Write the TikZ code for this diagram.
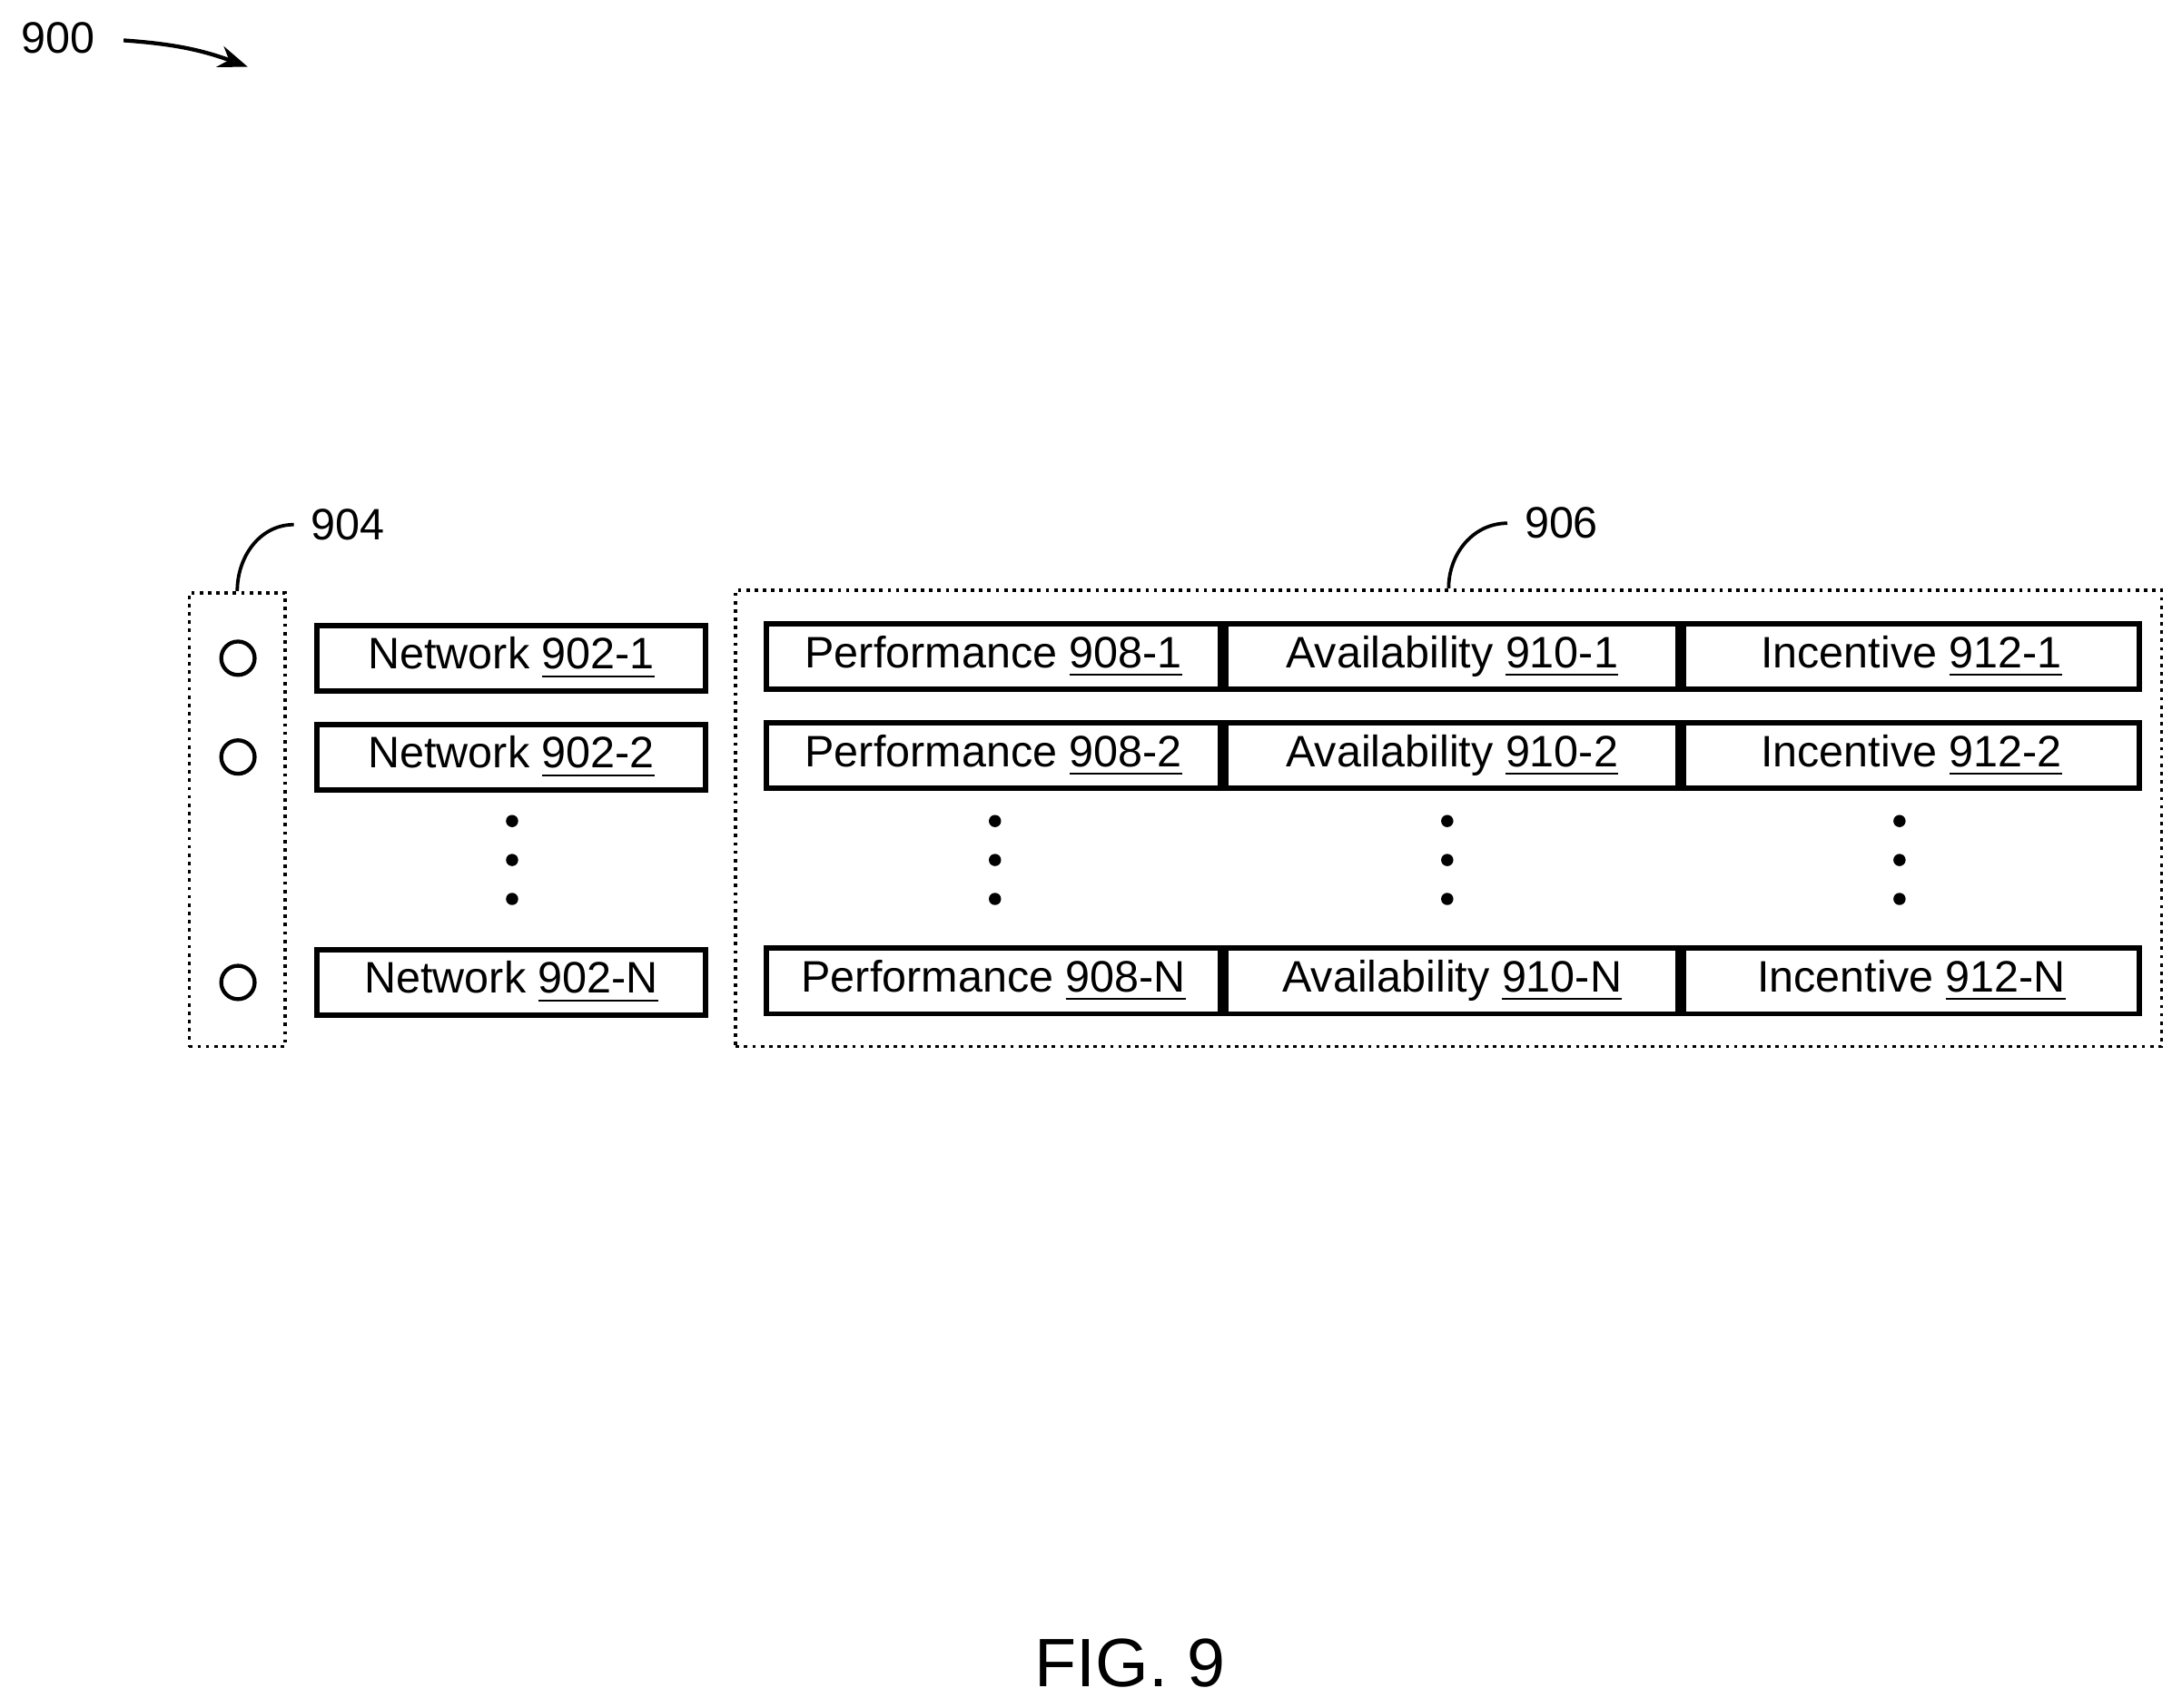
\documentclass[tikz,border=0pt]{standalone}
\usepackage{fontspec}
\setmainfont{Liberation Sans}
\usetikzlibrary{positioning,arrows.meta}

\begin{document}
\begin{tikzpicture}[x=0.01cm,y=-0.01cm,
    cell/.style={draw, line width=1.1pt, minimum height=0.47cm, inner sep=0pt, font=\fontsize{9}{11}\selectfont},
    group/.style={draw, densely dotted, line width=0.7pt},
    slot/.style={draw, circle, line width=0.8pt, minimum size=0.24cm, inner sep=0pt},
    ref/.style={font=\fontsize{9}{11}\selectfont},
    vdot/.style={circle, fill, inner sep=0pt, minimum size=2.5pt}]
\useasboundingbox (0,0) rectangle (1568,1227);
% figure reference
\node[ref] (fig) at (42,27) {900};
\coordinate (figend) at (178,48);
\draw[-{Stealth[length=6pt]}, line width=0.8pt] (fig.east) ++(8,2) to[bend left=8] (figend);
% selection column 904
\node[group, minimum width=0.69cm, minimum height=3.26cm] (G904) at (170.5,589) {};
\node[ref] (L904) at (250,377) {904};
\draw[line width=0.7pt] (G904.north) to[out=90, in=180] (L904.west);
\foreach \y/\n in {473/1, 544/2, 706/N} {
  \node[slot] (S\n) at (171,\y) {};
  \node[cell, minimum width=2.79cm] (NW\n) at (367.5,\y) {Network \underline{902-\n}};
}
\foreach \y in {590,618,646} \node[vdot] at (368,\y) {};
% attribute table 906
\node[group, minimum width=10.24cm, minimum height=3.28cm] (G906) at (1041,588) {};
\node[ref] (L906) at (1122,376) {906};
\draw[line width=0.7pt] (G906.north) to[out=90, in=180] (L906.west);
\foreach \y/\n in {472/1, 543/2, 705/N} {
  \node[cell, minimum width=3.26cm] (P\n) at (714,\y) {Performance \underline{908-\n}};
  \node[cell, minimum width=3.25cm, right=0pt of P\n] (A\n) {Availability \underline{910-\n}};
  \node[cell, minimum width=3.27cm, right=0pt of A\n] (I\n) {Incentive \underline{912-\n}};
}
\foreach \x in {715,1040,1365}
  \foreach \y in {590,618,646} \node[vdot] at (\x,\y) {};
% caption
\node[font=\fontsize{14}{16}\selectfont] (cap) at (812,1195) {FIG. 9};
\end{tikzpicture}
\end{document}
